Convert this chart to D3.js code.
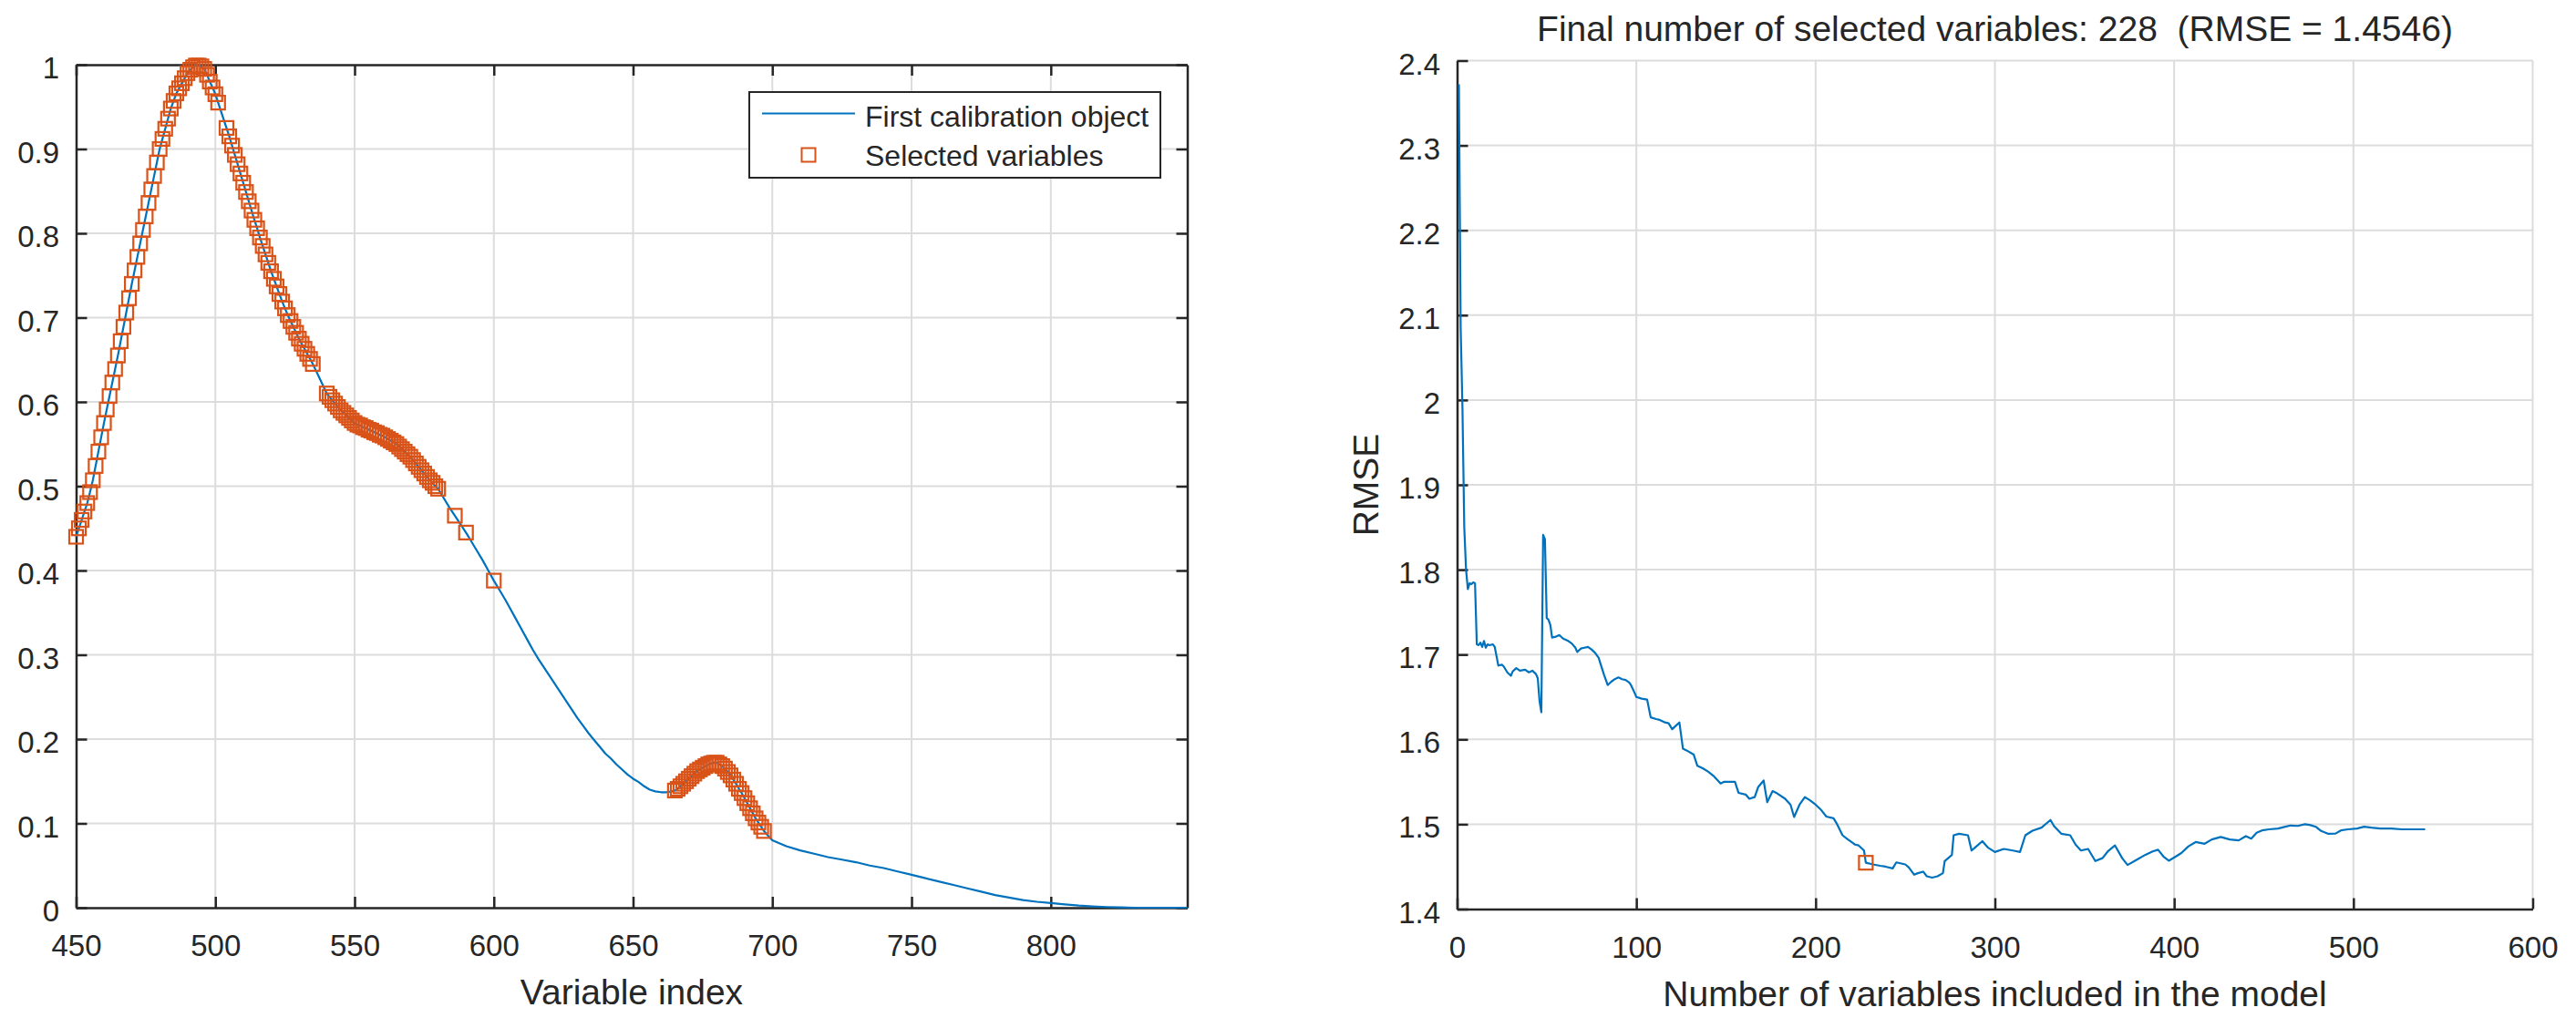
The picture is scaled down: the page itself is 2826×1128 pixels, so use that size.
<!DOCTYPE html>
<html>
<head>
<meta charset="utf-8">
<script src="https://cdn.jsdelivr.net/npm/d3@7"></script>
<style>
  html, body { margin: 0; padding: 0; background: #ffffff; }
  svg { display: block; }
</style>
</head>
<body>
<svg id="chart" width="2826" height="1128"></svg>
<script>
// ---------------- DATA ----------------
// Left panel: spectrum of the first calibration object
const specX = [
  450,451,452,453,454,455,456,457,458,459,460,461,462,463,464,465,466,467,468,469,
  470,471,472,473,474,475,476,477,478,479,480,481,482,483,484,485,486,487,488,489,
  490,491,492,493,494,495,496,497,498,499,500,501,502,503,504,505,506,507,508,509,
  510,511,512,513,514,515,516,517,518,519,520,521,522,523,524,525,526,527,528,529,
  530,531,532,533,534,535,536,537,538,539,540,541,542,543,544,545,546,547,548,549,
  550,551,552,553,554,555,556,557,558,559,560,561,562,563,564,565,566,567,568,569,
  570,571,572,573,574,575,576,577,578,579,580,
  582,584,586,588,590,592,594,596,598,600,602,604,606,608,610,612,614,616,618,620,
  622,624,626,628,630,632,634,636,638,640,642,644,646,648,650,652,654,656,658,660,
  662,664,
  665,666,667,668,669,670,671,672,673,674,675,676,677,678,679,680,681,682,683,684,
  685,686,687,688,689,690,691,692,693,694,695,696,697,698,700,
  705,710,715,720,725,730,735,740,745,750,755,760,765,770,775,780,785,790,795,800,
  805,810,815,820,825,830,840,849];
const specY = [
  0.440,0.450,0.460,0.470,0.480,0.493,0.507,0.524,0.541,0.558,0.575,0.591,0.607,0.623,0.639,0.655,0.672,0.689,0.706,0.723,
  0.740,0.756,0.772,0.788,0.804,0.820,0.836,0.852,0.868,0.884,0.900,0.912,0.924,0.936,0.948,0.957,0.966,0.972,0.978,0.984,
  0.990,0.994,0.997,0.999,0.999,0.998,0.995,0.988,0.980,0.973,0.965,0.955,0.945,0.935,0.925,0.915,0.904,0.893,0.882,0.871,
  0.860,0.849,0.838,0.827,0.816,0.806,0.795,0.785,0.775,0.765,0.755,0.746,0.737,0.728,0.719,0.711,0.703,0.696,0.689,0.682,
  0.675,0.669,0.663,0.657,0.651,0.645,0.638,0.631,0.624,0.617,0.610,0.606,0.602,0.598,0.594,0.590,0.587,0.584,0.581,0.578,
  0.575,0.573,0.572,0.570,0.569,0.567,0.566,0.564,0.563,0.561,0.560,0.558,0.556,0.554,0.552,0.550,0.547,0.544,0.541,0.538,
  0.535,0.531,0.527,0.523,0.519,0.515,0.511,0.507,0.504,0.500,0.497,
  0.486,0.475,0.465,0.455,0.445,0.434,0.423,0.412,0.400,0.388,0.377,0.366,0.354,0.342,0.330,0.318,0.306,0.295,0.285,0.275,
  0.265,0.255,0.245,0.235,0.225,0.216,0.207,0.199,0.191,0.183,0.177,0.170,0.164,0.158,0.153,0.149,0.144,0.140,0.138,0.137,
  0.137,0.138,
  0.139,0.141,0.144,0.147,0.150,0.153,0.156,0.159,0.162,0.164,0.166,0.168,0.170,0.171,0.172,0.172,0.170,0.168,0.165,0.161,
  0.157,0.152,0.147,0.141,0.136,0.130,0.124,0.118,0.112,0.106,0.101,0.096,0.091,0.087,0.080,
  0.073,0.068,0.064,0.060,0.057,0.054,0.050,0.047,0.043,0.039,0.035,0.031,0.027,0.023,0.019,0.015,0.012,0.009,0.007,0.0055,
  0.004,0.0025,0.0015,0.0008,0.0003,0.0,0.0,0.0];
// Selected variable indices (their values are looked up on the spectrum)
const selX = [
  450,451,452,453,454,455,456,457,458,459,460,461,462,463,464,465,466,467,468,469,
  470,471,472,473,474,475,476,477,478,479,480,481,482,483,484,485,486,487,488,489,
  490,491,492,493,494,495,496,497,498,499,500,501,504,505,506,507,508,509,
  510,511,512,513,514,515,516,517,518,519,520,521,522,523,524,525,526,527,528,529,
  530,531,532,533,534,535,
  540,541,542,543,544,545,546,547,548,549,550,551,552,553,554,555,556,557,558,559,
  560,561,562,563,564,565,566,567,568,569,570,571,572,573,574,575,576,577,578,579,580,
  586,590,600,
  665,666,667,668,669,670,671,672,673,674,675,676,677,678,679,680,681,682,683,684,
  685,686,687,688,689,690,691,692,693,694,695,696,697];

// Right panel: RMSE vs number of variables included
const rmseN = [1,2,3,4,5,6,7,8,9,10,11,12,13,14,15,16,17,18,20,21,
  22,23,25,26,28,30,31,33,35,38,40,42,44,45,46,47,48,49,50,51,
  52,53,55,57,59,60,62,64,66,67,69,71,73,75,77,79,80,82,84,86,
  88,90,92,94,96,97,99,100,103,106,108,111,113,116,118,120,122,124,126,128,
  132,134,137,140,143,147,149,155,157,161,163,166,168,171,173,176,178,183,186,188,
  191,194,197,200,203,206,210,212,215,218,222,224,227,228,232,236,239,243,245,250,
  252,255,257,260,262,265,268,271,272,276,277,280,285,287,289,293,296,300,305,310,
  314,317,321,326,331,333,337,342,345,348,352,356,360,363,367,371,374,379,384,388,
  391,394,397,401,404,408,412,417,421,426,431,436,440,443,446,449,453,458,462,465,
  469,473,476,479,482,486,490,493,497,502,506,510,515,521,527,533,540];
const rmseV = [2.372,2.085,1.990,1.850,1.800,1.777,1.784,1.783,1.785,1.784,1.712,1.711,1.714,1.709,1.716,1.708,1.712,1.711,1.712,1.709,
  1.698,1.687,1.688,1.686,1.679,1.675,1.680,1.684,1.681,1.682,1.679,1.681,1.677,1.672,1.645,1.632,1.841,1.836,1.743,1.741,
  1.735,1.720,1.721,1.723,1.719,1.718,1.716,1.713,1.708,1.703,1.707,1.708,1.709,1.706,1.702,1.696,1.689,1.676,1.664,1.668,
  1.671,1.673,1.671,1.670,1.667,1.664,1.655,1.650,1.648,1.647,1.626,1.624,1.623,1.620,1.619,1.612,1.616,1.620,1.589,1.587,
  1.582,1.569,1.566,1.562,1.557,1.548,1.550,1.550,1.537,1.535,1.530,1.532,1.544,1.5515,1.526,1.539,1.537,1.530,1.523,1.5085,
  1.523,1.532,1.528,1.523,1.517,1.509,1.507,1.500,1.487,1.482,1.476,1.475,1.469,1.4546,1.4526,1.451,1.450,1.448,1.455,1.4526,
  1.449,1.4405,1.4423,1.4441,1.4387,1.437,1.4387,1.4423,1.4566,1.4638,1.487,1.4888,1.487,1.469,1.4727,1.480,1.4727,1.4673,1.4709,1.469,
  1.4673,1.487,1.4924,1.496,1.505,1.4978,1.4888,1.487,1.476,1.469,1.4709,1.4566,1.460,1.468,1.475,1.460,1.452,1.458,1.464,1.468,
  1.470,1.462,1.457,1.462,1.466,1.474,1.479,1.477,1.482,1.485,1.482,1.481,1.486,1.483,1.490,1.4927,1.494,1.495,1.497,1.4985,
  1.498,1.500,1.499,1.497,1.492,1.4887,1.489,1.4927,1.494,1.495,1.497,1.496,1.495,1.495,1.494,1.494,1.494];
const bestN = [228];
const bestV = [1.4546];

// Tick labels
const xTicksL = [450,500,550,600,650,700,750,800];
const yTicksL = [0,0.1,0.2,0.3,0.4,0.5,0.6,0.7,0.8,0.9,1];
const xTicksR = [0,100,200,300,400,500,600];
const yTicksR = [1.4,1.5,1.6,1.7,1.8,1.9,2,2.1,2.2,2.3,2.4];

const titleR = "Final number of selected variables: 228\u00a0\u00a0(RMSE = 1.4546)";
const xLabelL = "Variable index";
const xLabelR = "Number of variables included in the model";
const yLabelR = "RMSE";
const legendLabels = ["First calibration object", "Selected variables"];

// ---------------- STYLE ----------------
const FONT = "'Liberation Sans', Arial, Helvetica, sans-serif";
const TXT = "#262626";
const AX = "#262626";
const GRID = "#dcdcdc";
const BLUE = "#0072BD";
const ORANGE = "#D95319";
const TICK_FS = 33, LABEL_FS = 39, LEG_FS = 32;
const MS = 15;

const svg = d3.select("#chart");
svg.append("rect").attr("width", 2826).attr("height", 1128).attr("fill", "#fff");

const fmt = d => String(+(+d).toFixed(1));

function styleAxis(g, labels) {
  g.attr("font-family", FONT).attr("font-size", TICK_FS).attr("fill", null);
  g.select(".domain").attr("stroke", AX).attr("stroke-width", 2.5);
  g.selectAll(".tick line").attr("stroke", AX).attr("stroke-width", 2.5);
  g.selectAll(".tick text").attr("fill", TXT);
  if (!labels) g.selectAll(".tick text").remove();
}

// ---------------- LEFT PANEL ----------------
const xL = d3.scaleLinear().domain([450, 849]).range([83.5, 1302.5]);
const yL = d3.scaleLinear().domain([0, 1]).range([996, 71]);
const gL = svg.append("g");

gL.append("g").selectAll("line").data(xTicksL.filter(d => d > 450)).join("line")
  .attr("x1", d => xL(d)).attr("x2", d => xL(d)).attr("y1", yL(0)).attr("y2", yL(1))
  .attr("stroke", GRID).attr("stroke-width", 2);
gL.append("g").selectAll("line").data(yTicksL.filter(d => d > 0 && d < 1)).join("line")
  .attr("x1", xL.range()[0]).attr("x2", xL.range()[1]).attr("y1", d => yL(d)).attr("y2", d => yL(d))
  .attr("stroke", GRID).attr("stroke-width", 2);

const axB = gL.append("g").attr("transform", `translate(0,${yL(0)})`)
  .call(d3.axisBottom(xL).tickValues(xTicksL).tickSizeInner(-12).tickSizeOuter(0).tickPadding(29.6).tickFormat(d3.format("d")));
styleAxis(axB, true);
const axLft = gL.append("g").attr("transform", `translate(${xL.range()[0]},0)`)
  .call(d3.axisLeft(yL).tickValues(yTicksL).tickSizeInner(-12).tickSizeOuter(0).tickPadding(18.5).tickFormat(fmt));
styleAxis(axLft, true);
axLft.selectAll(".tick text").attr("dy", "0.44em");
const axT = gL.append("g").attr("transform", `translate(0,${yL(1)})`)
  .call(d3.axisTop(xL).tickValues(xTicksL).tickSizeInner(-12).tickSizeOuter(0));
styleAxis(axT, false);
const axRt = gL.append("g").attr("transform", `translate(${xL.range()[1]},0)`)
  .call(d3.axisRight(yL).tickValues(yTicksL).tickSizeInner(-12).tickSizeOuter(0));
styleAxis(axRt, false);

const specData = specX.map((x, i) => ({ x, y: specY[i] }));
gL.append("path").datum(specData)
  .attr("fill", "none").attr("stroke", BLUE).attr("stroke-width", 2.2).attr("stroke-linejoin", "round")
  .attr("d", d3.line().x(d => xL(d.x)).y(d => yL(d.y)));

const specMap = new Map(specX.map((x, i) => [x, specY[i]]));
const selData = selX.map(x => ({ x, y: specMap.get(x) }));
gL.append("g").selectAll("rect").data(selData).join("rect")
  .attr("x", d => xL(d.x) - MS / 2).attr("y", d => yL(d.y) - MS / 2)
  .attr("width", MS).attr("height", MS)
  .attr("fill", "none").attr("stroke", ORANGE).attr("stroke-width", 2.2);

gL.append("text").attr("x", (xL.range()[0] + xL.range()[1]) / 2).attr("y", 1102)
  .attr("text-anchor", "middle").attr("font-family", FONT).attr("font-size", LABEL_FS).attr("fill", TXT)
  .text(xLabelL);

// legend
const leg = gL.append("g");
leg.append("rect").attr("x", 822).attr("y", 101).attr("width", 451).attr("height", 94)
  .attr("fill", "#fff").attr("stroke", AX).attr("stroke-width", 2);
leg.append("line").attr("x1", 836).attr("x2", 938).attr("y1", 124.5).attr("y2", 124.5)
  .attr("stroke", BLUE).attr("stroke-width", 2.2);
leg.append("rect").attr("x", 887 - MS / 2).attr("y", 170 - MS / 2).attr("width", MS).attr("height", MS)
  .attr("fill", "none").attr("stroke", ORANGE).attr("stroke-width", 2);
leg.selectAll("text").data(legendLabels).join("text")
  .attr("x", 949).attr("y", (d, i) => i === 0 ? 139 : 182)
  .attr("font-family", FONT).attr("font-size", LEG_FS).attr("fill", TXT)
  .text(d => d);

// ---------------- RIGHT PANEL ----------------
const xR = d3.scaleLinear().domain([0, 600]).range([1598.5, 2778.5]);
const yR = d3.scaleLinear().domain([1.4, 2.4]).range([997.5, 66.5]);
const gR = svg.append("g");

gR.append("g").selectAll("line").data(xTicksR.filter(d => d > 0)).join("line")
  .attr("x1", d => xR(d)).attr("x2", d => xR(d)).attr("y1", yR(1.4)).attr("y2", yR(2.4))
  .attr("stroke", GRID).attr("stroke-width", 2);
gR.append("g").selectAll("line").data(yTicksR.filter(d => d > 1.4)).join("line")
  .attr("x1", xR.range()[0]).attr("x2", xR.range()[1]).attr("y1", d => yR(d)).attr("y2", d => yR(d))
  .attr("stroke", GRID).attr("stroke-width", 2);

const axBR = gR.append("g").attr("transform", `translate(0,${yR(1.4)})`)
  .call(d3.axisBottom(xR).tickValues(xTicksR).tickSizeInner(-12).tickSizeOuter(0).tickPadding(29.6).tickFormat(d3.format("d")));
styleAxis(axBR, true);
const axLR = gR.append("g").attr("transform", `translate(${xR.range()[0]},0)`)
  .call(d3.axisLeft(yR).tickValues(yTicksR).tickSizeInner(-12).tickSizeOuter(0).tickPadding(18.5).tickFormat(fmt));
styleAxis(axLR, true);
axLR.selectAll(".tick text").attr("dy", "0.44em");

const rmseData = rmseN.map((n, i) => ({ n, v: rmseV[i] }));
gR.append("path").datum(rmseData)
  .attr("fill", "none").attr("stroke", BLUE).attr("stroke-width", 2.2).attr("stroke-linejoin", "round")
  .attr("d", d3.line().x(d => xR(d.n)).y(d => yR(d.v)));

gR.append("g").selectAll("rect").data(bestN.map((n, i) => ({ n, v: bestV[i] }))).join("rect")
  .attr("x", d => xR(d.n) - MS / 2).attr("y", d => yR(d.v) - MS / 2)
  .attr("width", MS).attr("height", MS)
  .attr("fill", "none").attr("stroke", ORANGE).attr("stroke-width", 2.2);

gR.append("text").attr("x", (xR.range()[0] + xR.range()[1]) / 2).attr("y", 1104)
  .attr("text-anchor", "middle").attr("font-family", FONT).attr("font-size", LABEL_FS).attr("fill", TXT)
  .text(xLabelR);
gR.append("text").attr("transform", `translate(1512,${(yR.range()[0] + yR.range()[1]) / 2}) rotate(-90)`)
  .attr("text-anchor", "middle").attr("font-family", FONT).attr("font-size", LABEL_FS).attr("fill", TXT)
  .text(yLabelR);
gR.append("text").attr("x", (xR.range()[0] + xR.range()[1]) / 2).attr("y", 45)
  .attr("text-anchor", "middle").attr("font-family", FONT).attr("font-size", LABEL_FS).attr("fill", TXT)
  .text(titleR);
</script>
</body>
</html>
